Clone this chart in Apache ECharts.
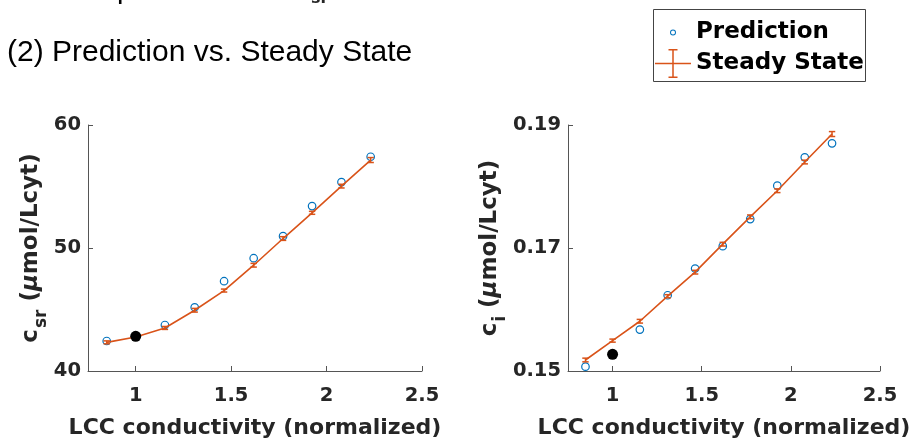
<!DOCTYPE html>
<html>
<head>
<meta charset="utf-8">
<script src="https://cdn.jsdelivr.net/npm/echarts@6/dist/echarts.min.js"></script>
<style>
  html, body { margin: 0; padding: 0; background: #fff; }
  #chart { width: 923px; height: 444px; }
</style>
</head>
<body>
<div id="chart"></div>
<script>
// LCC conductivity (normalized) at which both quantities were evaluated
const conductivity = [0.848, 1.0, 1.153, 1.309, 1.463, 1.618, 1.772, 1.924, 2.078, 2.231];
// index of the reference (control) condition, drawn as a filled black dot
const baselineIndex = 1;

// c_sr (µmol/Lcyt)
const predictionSr = [42.44, 42.82, 43.74, 45.18, 47.30, 49.17, 50.96, 53.41, 55.36, 57.42];
const steadySr     = [42.33, 42.77, 43.50, 44.94, 46.54, 48.60, 50.77, 52.86, 55.03, 57.15];
const steadySrErr  = [0.12, 0.12, 0.12, 0.15, 0.12, 0.15, 0.15, 0.12, 0.15, 0.20];

// c_i (µmol/Lcyt)
const predictionI = [0.15071, 0.15271, 0.15673, 0.16232, 0.16666, 0.17030, 0.17470, 0.18013, 0.18474, 0.18702];
const steadyI     = [0.15179, 0.15494, 0.15809, 0.16216, 0.16607, 0.17062, 0.17507, 0.17931, 0.18398, 0.18853];
const steadyIErr  = [0.00030, 0.00025, 0.00030, 0.00025, 0.00030, 0.00030, 0.00030, 0.00030, 0.00030, 0.00040];

// tick positions
const xTicks   = [1, 1.5, 2, 2.5];
const ySrTicks = [40, 50, 60];
const yITicks  = [0.15, 0.17, 0.19];

const BLUE = '#0072BD';
const ORANGE = '#D95319';
const AXIS = '#555555';
const INK = '#262626';
const BOLD = 'DejaVu Sans';

const chart = echarts.init(document.getElementById('chart'), null, { renderer: 'canvas' });

function pairs(ys) {
  return conductivity.map((x, i) => [x, ys[i]]);
}

function errorBarSeries(axisIndex, values, errs) {
  return {
    type: 'custom',
    name: 'Steady State',
    xAxisIndex: axisIndex,
    yAxisIndex: axisIndex,
    z: 4,
    encode: { x: 0, y: [1, 2] },
    data: conductivity.map((x, i) => [x, values[i] - errs[i], values[i] + errs[i]]),
    renderItem(params, api) {
      const lo = api.coord([api.value(0), api.value(1)]);
      const hi = api.coord([api.value(0), api.value(2)]);
      const half = 3.2;
      const style = { stroke: ORANGE, lineWidth: 1.5, fill: null };
      return {
        type: 'group',
        children: [
          { type: 'line', shape: { x1: lo[0], y1: lo[1], x2: hi[0], y2: hi[1] }, style },
          { type: 'line', shape: { x1: lo[0] - half, y1: lo[1], x2: lo[0] + half, y2: lo[1] }, style },
          { type: 'line', shape: { x1: hi[0] - half, y1: hi[1], x2: hi[0] + half, y2: hi[1] }, style }
        ]
      };
    }
  };
}

function panelSeries(axisIndex, prediction, steady, errs) {
  return [
    {
      type: 'scatter',
      name: 'Prediction',
      xAxisIndex: axisIndex,
      yAxisIndex: axisIndex,
      z: 2,
      symbol: 'circle',
      symbolSize: 7.5,
      itemStyle: { color: 'rgba(255,255,255,0)', borderColor: BLUE, borderWidth: 1.2, opacity: 1 },
      data: pairs(prediction).filter((_, i) => i !== baselineIndex)
    },
    {
      type: 'line',
      name: 'Steady State',
      xAxisIndex: axisIndex,
      yAxisIndex: axisIndex,
      z: 3,
      showSymbol: false,
      symbol: 'none',
      lineStyle: { color: ORANGE, width: 1.6 },
      itemStyle: { color: ORANGE },
      data: pairs(steady)
    },
    errorBarSeries(axisIndex, steady, errs),
    {
      type: 'scatter',
      name: 'Control',
      xAxisIndex: axisIndex,
      yAxisIndex: axisIndex,
      z: 6,
      symbol: 'circle',
      symbolSize: 11,
      itemStyle: { color: '#000', opacity: 1 },
      data: [[conductivity[baselineIndex], prediction[baselineIndex]]]
    }
  ];
}

function xAxisFor(gridIndex) {
  return {
    type: 'value',
    gridIndex,
    min: 0.75,
    max: 2.5,
    name: 'LCC conductivity (normalized)',
    nameLocation: 'middle',
    nameGap: 46,
    nameTextStyle: { fontFamily: BOLD, fontWeight: 'bold', fontSize: 22, color: INK },
    axisLine: { show: true, onZero: false, lineStyle: { color: AXIS, width: 1 } },
    axisTick: { show: true, inside: true, length: 5, customValues: xTicks, lineStyle: { color: AXIS } },
    axisLabel: {
      customValues: xTicks,
      margin: 15,
      fontFamily: BOLD, fontWeight: 'bold', fontSize: 19.5, color: INK,
      formatter: v => String(v)
    },
    splitLine: { show: false }
  };
}

function yName(sub) {
  return '{c|c}{sub|' + sub + '}{t| (}{mu|μ}{t|mol/Lcyt)}';
}

const yNameRich = {
  c:   { fontFamily: BOLD, fontWeight: 'bold', fontSize: 23, lineHeight: 23, verticalAlign: 'top', color: INK },
  t:   { fontFamily: BOLD, fontWeight: 'bold', fontSize: 23, lineHeight: 23, verticalAlign: 'top', color: INK },
  mu:  { fontFamily: BOLD, fontWeight: 'bold', fontStyle: 'italic', fontSize: 23, lineHeight: 23, verticalAlign: 'top', color: INK },
  sub: { fontFamily: BOLD, fontWeight: 'bold', fontSize: 17, lineHeight: 17, verticalAlign: 'top', padding: [13, 0, 0, 1], color: INK }
};

function yAxisFor(gridIndex, min, max, ticks, sub, gap, digits) {
  return {
    type: 'value',
    gridIndex,
    min,
    max,
    name: yName(sub),
    nameLocation: 'middle',
    nameGap: gap,
    nameRotate: 90,
    nameTextStyle: { rich: yNameRich },
    axisLine: { show: true, lineStyle: { color: AXIS, width: 1 } },
    axisTick: { show: true, inside: true, length: 5, customValues: ticks, lineStyle: { color: AXIS } },
    axisLabel: {
      customValues: ticks,
      margin: 7,
      fontFamily: BOLD, fontWeight: 'bold', fontSize: 19.5, color: INK,
      formatter: v => v.toFixed(digits)
    },
    splitLine: { show: false }
  };
}

// legend glyphs: a thin ring, and a line crossed by a capped error bar
const ringIcon = 'path://M3,0A3,3,0,1,1,3,6A3,3,0,1,1,3,0ZM3,1A2,2,0,1,0,3,5A2,2,0,1,0,3,1Z';
const errorBarIcon = 'path://M0,14.25H36V15.75H0Z M17.25,1H18.75V29H17.25Z M13.5,0.5H22.5V2H13.5Z M13.5,28H22.5V29.5H13.5Z';

const legendText = { fontFamily: BOLD, fontWeight: 'bold', fontSize: 23, color: '#000' };

const option = {
  animation: false,
  backgroundColor: '#fff',
  title: {
    text: '(2) Prediction vs. Steady State',
    left: 7,
    top: 38,
    padding: 0,
    textStyle: { fontFamily: 'Liberation Sans', fontWeight: 'normal', fontSize: 30, color: '#000' }
  },
  legend: [
    {
      data: [{ name: 'Prediction', icon: ringIcon, itemStyle: { color: BLUE, borderWidth: 0 } }],
      left: 670, top: 21, padding: 0, itemGap: 0,
      itemWidth: 36, itemHeight: 6,
      selectedMode: false,
      textStyle: legendText
    },
    {
      data: [{ name: 'Steady State', icon: errorBarIcon, itemStyle: { color: ORANGE, borderWidth: 0 } }],
      left: 655, top: 49, padding: 0, itemGap: 0,
      itemWidth: 36, itemHeight: 30,
      selectedMode: false,
      textStyle: legendText
    }
  ],
  graphic: [
    {
      type: 'rect',
      shape: { x: 653.5, y: 9.5, width: 212, height: 72 },
      style: { fill: null, stroke: '#444', lineWidth: 1 },
      silent: true
    },
    // bottom edge of the preceding heading line, cut off by the page top
    {
      type: 'text',
      left: 117, top: -25,
      style: { text: 'p', fontFamily: 'Liberation Sans', fontSize: 29, fill: '#000' },
      silent: true
    },
    {
      type: 'text',
      left: 311, top: -9,
      style: { text: 'sr', fontFamily: BOLD, fontWeight: 'bold', fontSize: 16, fill: INK },
      silent: true
    }
  ],
  grid: [
    { left: 88, top: 125, width: 334, height: 246, containLabel: false },
    { left: 568, top: 125, width: 312, height: 246, containLabel: false }
  ],
  xAxis: [xAxisFor(0), xAxisFor(1)],
  yAxis: [
    yAxisFor(0, 40, 60, ySrTicks, 'sr', 34, 0),
    yAxisFor(1, 0.15, 0.19, yITicks, 'i', 57, 2)
  ],
  series: [
    ...panelSeries(0, predictionSr, steadySr, steadySrErr),
    ...panelSeries(1, predictionI, steadyI, steadyIErr)
  ]
};

chart.setOption(option);
</script>
</body>
</html>
